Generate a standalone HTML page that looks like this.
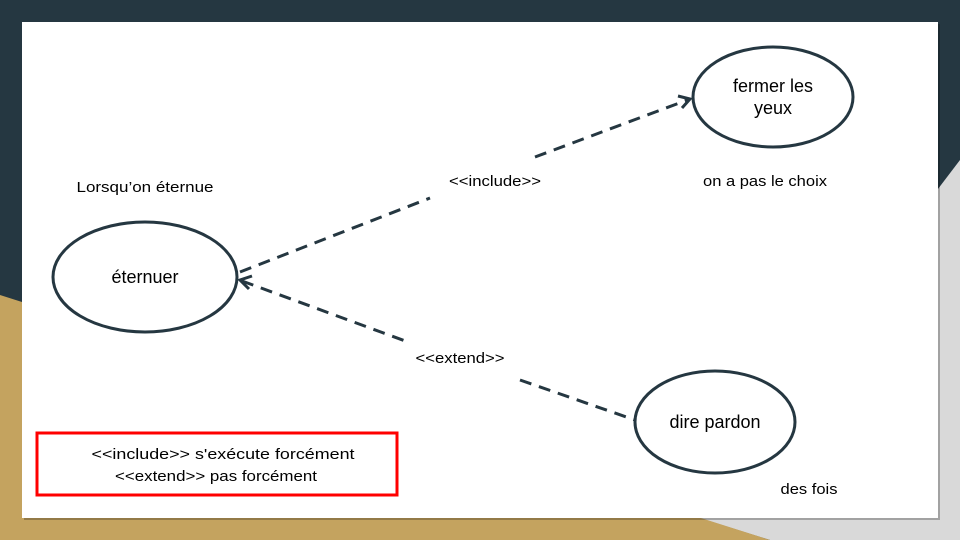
<!DOCTYPE html>
<html><head><meta charset="utf-8"><style>
body{margin:0;width:960px;height:540px;overflow:hidden;font-family:"Liberation Sans",sans-serif}
</style></head><body>
<svg width="960" height="540" viewBox="0 0 960 540" xmlns="http://www.w3.org/2000/svg">
<rect width="960" height="540" fill="#253741"/>
<polygon points="960,160 960,540 770,540 690,515" fill="#d9d9d9"/>
<polygon points="0,295 770,540 0,540" fill="#c4a35f"/>
<rect x="24" y="24" width="916" height="496" fill="#000" opacity="0.25"/>
<rect x="22" y="22" width="916" height="496" fill="#fff"/>
<g stroke="#253741" stroke-width="3" fill="none">
<ellipse cx="145" cy="277" rx="92" ry="55"/>
<ellipse cx="773" cy="97" rx="80" ry="50"/>
<ellipse cx="715" cy="422" rx="80" ry="51"/>
<line x1="240" y1="272" x2="430" y2="198" stroke-dasharray="12,8"/>
<line x1="535" y1="157" x2="690" y2="99" stroke-dasharray="12,8"/>
<polyline points="678,96 690,99 682,108"/>
<line x1="242" y1="281" x2="408" y2="342" stroke-dasharray="12,8"/>
<polyline points="252,276 240,280 249,289"/>
<line x1="520" y1="380" x2="635" y2="420" stroke-dasharray="12,8"/>
</g>
<g font-family="Liberation Sans, sans-serif" font-size="18" fill="#000" text-anchor="middle">
<text x="145" y="283">éternuer</text>
<text x="773" y="92">fermer les</text>
<text x="773" y="114">yeux</text>
<text x="715" y="428">dire pardon</text>
</g>
<g font-family="Liberation Sans, sans-serif" font-size="15" fill="#000" text-anchor="middle">
<text x="145" y="192" textLength="137" lengthAdjust="spacingAndGlyphs">Lorsqu’on éternue</text>
<text x="495" y="186" textLength="92" lengthAdjust="spacingAndGlyphs">&lt;&lt;include&gt;&gt;</text>
<text x="765" y="186" textLength="124" lengthAdjust="spacingAndGlyphs">on a pas le choix</text>
<text x="460" y="363" textLength="89" lengthAdjust="spacingAndGlyphs">&lt;&lt;extend&gt;&gt;</text>
<text x="809" y="494" textLength="57" lengthAdjust="spacingAndGlyphs">des fois</text>
<text x="223" y="459" textLength="263" lengthAdjust="spacingAndGlyphs">&lt;&lt;include&gt;&gt; s'exécute forcément</text>
<text x="216" y="481" textLength="202" lengthAdjust="spacingAndGlyphs">&lt;&lt;extend&gt;&gt; pas forcément</text>
</g>
<rect x="37" y="433" width="360" height="62" fill="none" stroke="#ff0000" stroke-width="3"/>
</svg>
</body></html>
